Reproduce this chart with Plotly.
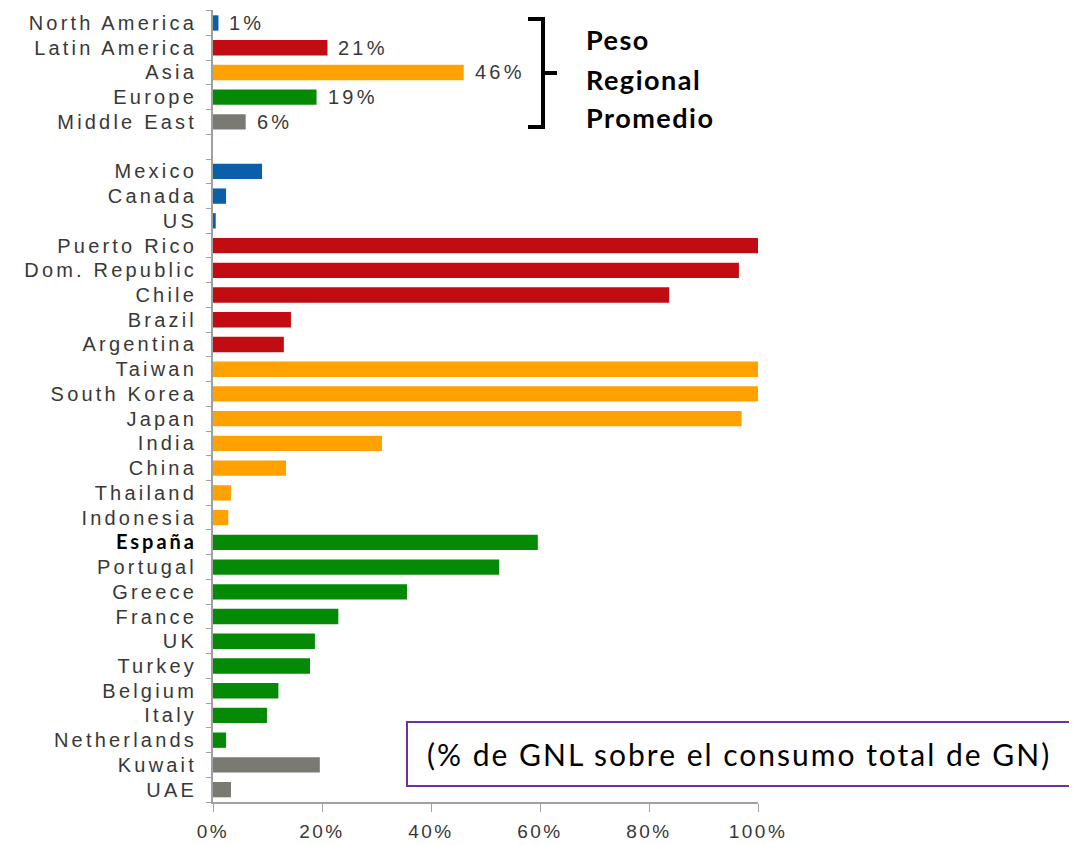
import plotly.graph_objects as go

# regional averages (top block)
regions = ["North America", "Latin America", "Asia", "Europe", "Middle East"]
region_share = [1, 21, 46, 19, 6]

# countries, grouped by region
countries = [
    "Mexico", "Canada", "US",
    "Puerto Rico", "Dom. Republic", "Chile", "Brazil", "Argentina",
    "Taiwan", "South Korea", "Japan", "India", "China", "Thailand", "Indonesia",
    "España", "Portugal", "Greece", "France", "UK", "Turkey", "Belgium", "Italy", "Netherlands",
    "Kuwait", "UAE",
]
country_share = [
    9, 2.4, 0.5,
    100, 96.5, 83.7, 14.3, 13,
    100, 100, 97, 31, 13.4, 3.3, 2.8,
    59.6, 52.5, 35.6, 23, 18.7, 17.8, 12, 9.9, 2.4,
    19.6, 3.3,
]
country_region = (
    ["North America"] * 3 + ["Latin America"] * 5 + ["Asia"] * 7
    + ["Europe"] * 9 + ["Middle East"] * 2
)

x_ticks = [0, 20, 40, 60, 80, 100]

REGION_COLORS = {
    "North America": "#0b5ea8",
    "Latin America": "#c10d11",
    "Asia": "#ffa200",
    "Europe": "#048a04",
    "Middle East": "#7b7a72",
}

GAP = " "  # empty slot between the two blocks
order = regions + [GAP] + countries

SPACED = "letter-spacing:3.2px"
tick_text = []
for c in order:
    if c == "España":
        tick_text.append('<span style="font-family:Lato;color:#000000;letter-spacing:3px">'
                         '<b>España</b></span>')
    else:
        tick_text.append(f'<span style="{SPACED}">{c}</span>')

# page geometry: the page body has an 8px margin, so screen pixels are shifted
OFF = 8
FIG_W, FIG_H = 1077 - OFF, 845 - OFF
PL, PR, PT, PB = 213, 758, 10, 802  # plot area in screen pixels


def px(x):
    return (x - PL) / (PR - PL)


def py(y):
    return (PB - y) / (PB - PT)


fig = go.Figure()

fig.add_trace(go.Bar(
    y=regions,
    x=region_share,
    orientation="h",
    marker=dict(color=[REGION_COLORS[r] for r in regions], line=dict(width=0)),
    hoverinfo="x+y",
))

fig.add_trace(go.Bar(
    y=countries,
    x=country_share,
    orientation="h",
    marker=dict(color=[REGION_COLORS[r] for r in country_region], line=dict(width=0)),
    hoverinfo="x+y",
))

# value labels for regional averages
for r, v in zip(regions, region_share):
    fig.add_annotation(
        x=v, y=r, xref="x", yref="y",
        text=f'<span style="{SPACED}">{v}%</span>', showarrow=False,
        xanchor="left", xshift=9,
        font=dict(family="Liberation Sans", size=20, color="#383838"),
    )

# bracket
bk = dict(color="#000000", width=4)
fig.add_shape(type="line", xref="paper", yref="paper",
              x0=px(543), x1=px(543), y0=py(19), y1=py(127), line=bk)
fig.add_shape(type="line", xref="paper", yref="paper",
              x0=px(528), x1=px(545), y0=py(19), y1=py(19), line=bk)
fig.add_shape(type="line", xref="paper", yref="paper",
              x0=px(528), x1=px(545), y0=py(127), y1=py(127), line=bk)
fig.add_shape(type="line", xref="paper", yref="paper",
              x0=px(543), x1=px(557), y0=py(73), y1=py(73), line=bk)

for txt, yy in [("Peso", 40), ("Regional", 79), ("Promedio", 118)]:
    fig.add_annotation(
        x=px(584), y=py(yy), xref="paper", yref="paper",
        text=f'<span style="letter-spacing:1.5px"><b>{txt}</b></span>', showarrow=False,
        xanchor="left", yanchor="middle",
        font=dict(family="Lato", size=27, color="#000000"),
    )

# note box
fig.add_shape(type="rect", xref="paper", yref="paper",
              x0=px(407), x1=px(1075), y0=py(722), y1=py(786),
              line=dict(color="#7030a0", width=2), fillcolor="#ffffff", layer="above")
fig.add_annotation(
    x=px(425), y=py(754), xref="paper", yref="paper",
    text='<span style="letter-spacing:2px">(% de GNL sobre el consumo total de GN)</span>',
    showarrow=False,
    xanchor="left", yanchor="middle",
    font=dict(family="Lato", size=30, color="#000000"),
)

fig.update_layout(
    width=FIG_W, height=FIG_H,
    margin=dict(l=PL - OFF, r=FIG_W - (PR - OFF), t=PT - OFF, b=FIG_H - (PB - OFF)),
    paper_bgcolor="#ffffff",
    plot_bgcolor="#ffffff",
    showlegend=False,
    barmode="overlay",
    bargap=0.38,
    xaxis=dict(
        range=[0, 100],
        tickvals=x_ticks,
        ticktext=[f'<span style="letter-spacing:2.5px">{t}%</span>' for t in x_ticks],
        showgrid=False, zeroline=False,
        showline=True, linecolor="#a0a0a0", linewidth=2,
        ticks="outside", ticklen=8, tickcolor="#a0a0a0",
        tickfont=dict(family="Liberation Sans", size=19, color="#383838"),
        ticklabelstandoff=3,
        automargin=False,
    ),
    yaxis=dict(
        type="category",
        categoryorder="array",
        categoryarray=order,
        tickvals=order,
        ticktext=tick_text,
        autorange="reversed",
        showgrid=False, zeroline=False,
        showline=True, linecolor="#a0a0a0", linewidth=2,
        ticks="outside", ticklen=5, tickcolor="#a0a0a0",
        tickson="boundaries",
        tickfont=dict(family="Liberation Sans", size=20, color="#383838"),
        ticklabelstandoff=10,
        automargin=False,
    ),
)

fig.write_html("out.html")
